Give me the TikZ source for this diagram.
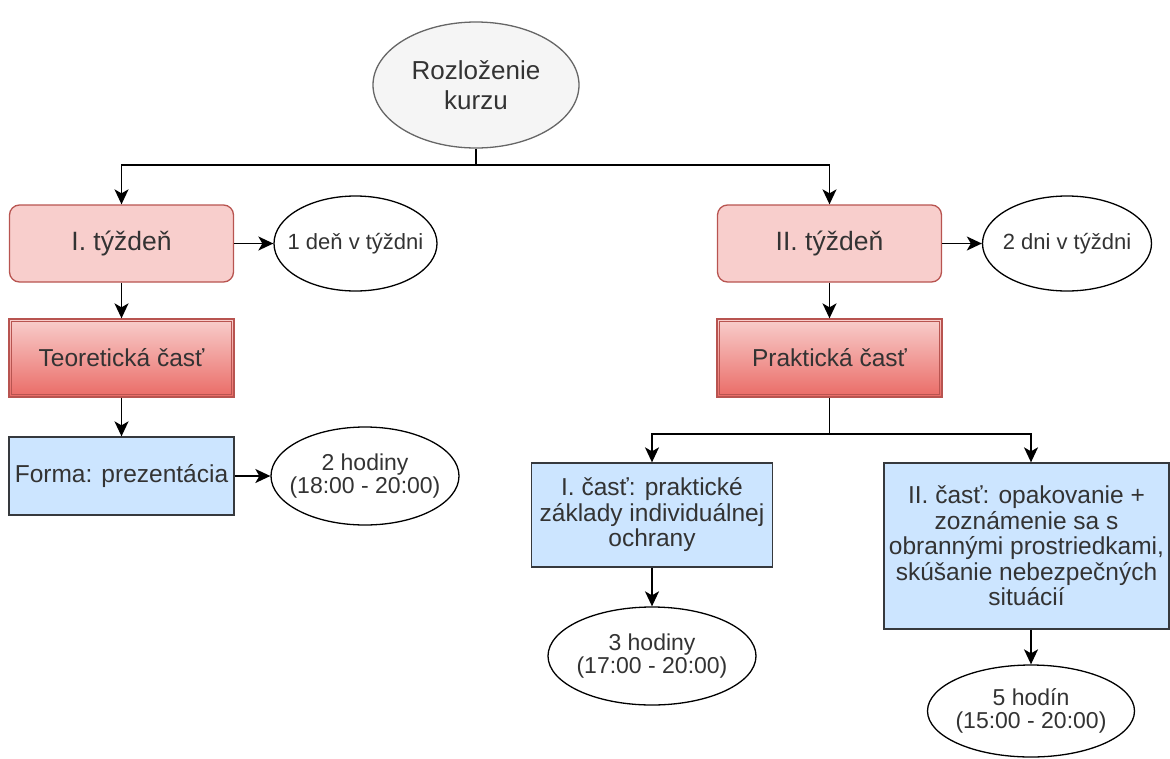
\documentclass[tikz,border=0pt]{standalone}
\usepackage{fontspec}
\setmainfont{Liberation Sans}
\usetikzlibrary{arrows.meta,shapes.geometric}
\definecolor{txt}{HTML}{333333}
\definecolor{redfill}{HTML}{F8CECC}
\definecolor{redline}{HTML}{B85450}
\definecolor{redgrad}{HTML}{EA6B66}
\definecolor{bluefill}{HTML}{CCE5FF}
\definecolor{blueline}{HTML}{36393D}
\definecolor{grayfill}{HTML}{F5F5F5}
\definecolor{grayline}{HTML}{666666}
\tikzset{
  base/.style={inner sep=0pt, align=center, text=txt, font=\fontsize{24.5}{25.5}\selectfont},
  rootnode/.style={ellipse, draw=grayline, fill=grayfill, line width=1.3pt, inner sep=0pt, minimum width=206pt, minimum height=126pt},
  weekbox/.style={base, rectangle, rounded corners=10pt, draw=redline, fill=redfill, line width=1.3pt, minimum width=224pt, minimum height=77pt, font=\fontsize{26.5}{28}\selectfont},
  partbox/.style={base, rectangle, draw=redline, top color=redfill, bottom color=redgrad, line width=1.3pt, minimum width=225pt, minimum height=78pt},
  bluebox/.style={base, rectangle, draw=blueline, fill=bluefill, line width=1.3pt},
  oval/.style={ellipse, draw=black, fill=white, line width=1.3pt, inner sep=0pt},
  ltext/.style={base, font=\fontsize{22}{24}\selectfont},
  ltwo/.style={base, font=\fontsize{23}{23.5}\selectfont},
  lroot/.style={base, font=\fontsize{26}{30}\selectfont},
  ln/.style={draw=black, line width=1.7pt},
  arr/.style={ln, -{Stealth[length=15pt,width=14pt,inset=4pt]}},
  innerb/.style={draw=redline, line width=1pt}
}
\begin{document}
\begin{tikzpicture}[x=1pt,y=-1pt]
\useasboundingbox (0,0) rectangle (1170,758);
% nodes
\node[rootnode, label={[lroot]center:Rozloženie\\kurzu}] (root) at (476,85) {};
\node[weekbox] (w1) at (121.5,243.5) {I. týždeň};
\node[oval, minimum width=163pt, minimum height=95pt, label={[ltext]center:1 deň v týždni}] (d1) at (355.5,243.5) {};
\node[partbox] (teo) at (121.5,358) {Teoretická časť};
\draw[innerb] ([shift={(3pt,-3pt)}]teo.north west) rectangle ([shift={(-3pt,3pt)}]teo.south east);
\node[bluebox, minimum width=225pt, minimum height=78pt] (forma) at (121.5,476) {Forma: prezentácia};
\node[oval, minimum width=188pt, minimum height=98pt, label={[ltwo]center:2 hodiny\\(18:00 - 20:00)}] (h2) at (365,476) {};
\node[weekbox] (w2) at (829.5,243.5) {II. týždeň};
\node[oval, minimum width=169pt, minimum height=95pt, label={[ltext]center:2 dni v týždni}] (d2) at (1067,243.5) {};
\node[partbox] (prak) at (829.5,358) {Praktická časť};
\draw[innerb] ([shift={(3pt,-3pt)}]prak.north west) rectangle ([shift={(-3pt,3pt)}]prak.south east);
\node[bluebox, minimum width=241pt, minimum height=104pt] (c1) at (652,515) {I. časť: praktické\\základy individuálnej\\ochrany};
\node[oval, minimum width=208pt, minimum height=98pt, label={[ltwo]center:3 hodiny\\(17:00 - 20:00)}] (h3) at (652,656) {};
\node[bluebox, minimum width=285pt, minimum height=166pt] (c2) at (1026.5,546) {II. časť: opakovanie +\\zoznámenie sa s\\obrannými prostriedkami,\\skúšanie nebezpečných\\situácií};
\node[oval, minimum width=207pt, minimum height=92pt, label={[ltwo]center:5 hodín\\(15:00 - 20:00)}] (h5) at (1031,711) {};
% connectors
\coordinate (b1) at (476,165);
\draw[ln] (root.south) -- (b1);
\draw[arr] (b1) -| (w1.north);
\draw[arr] (b1) -| (w2.north);
\draw[arr] (w1.east) -- (d1.west);
\draw[arr] (w1.south) -- (teo.north);
\draw[arr] (teo.south) -- (forma.north);
\draw[arr] (forma.east) -- (h2.west);
\draw[arr] (w2.east) -- (d2.west);
\draw[arr] (w2.south) -- (prak.north);
\coordinate (b2) at (829.5,434);
\draw[ln] (prak.south) -- (b2);
\draw[arr] (b2) -| (c1.north);
\draw[arr] (b2) -| ([xshift=4.5pt]c2.north);
\draw[arr] (c1.south) -- (h3.north);
\draw[arr] ([xshift=4.5pt]c2.south) -- (h5.north);
\end{tikzpicture}
\end{document}
